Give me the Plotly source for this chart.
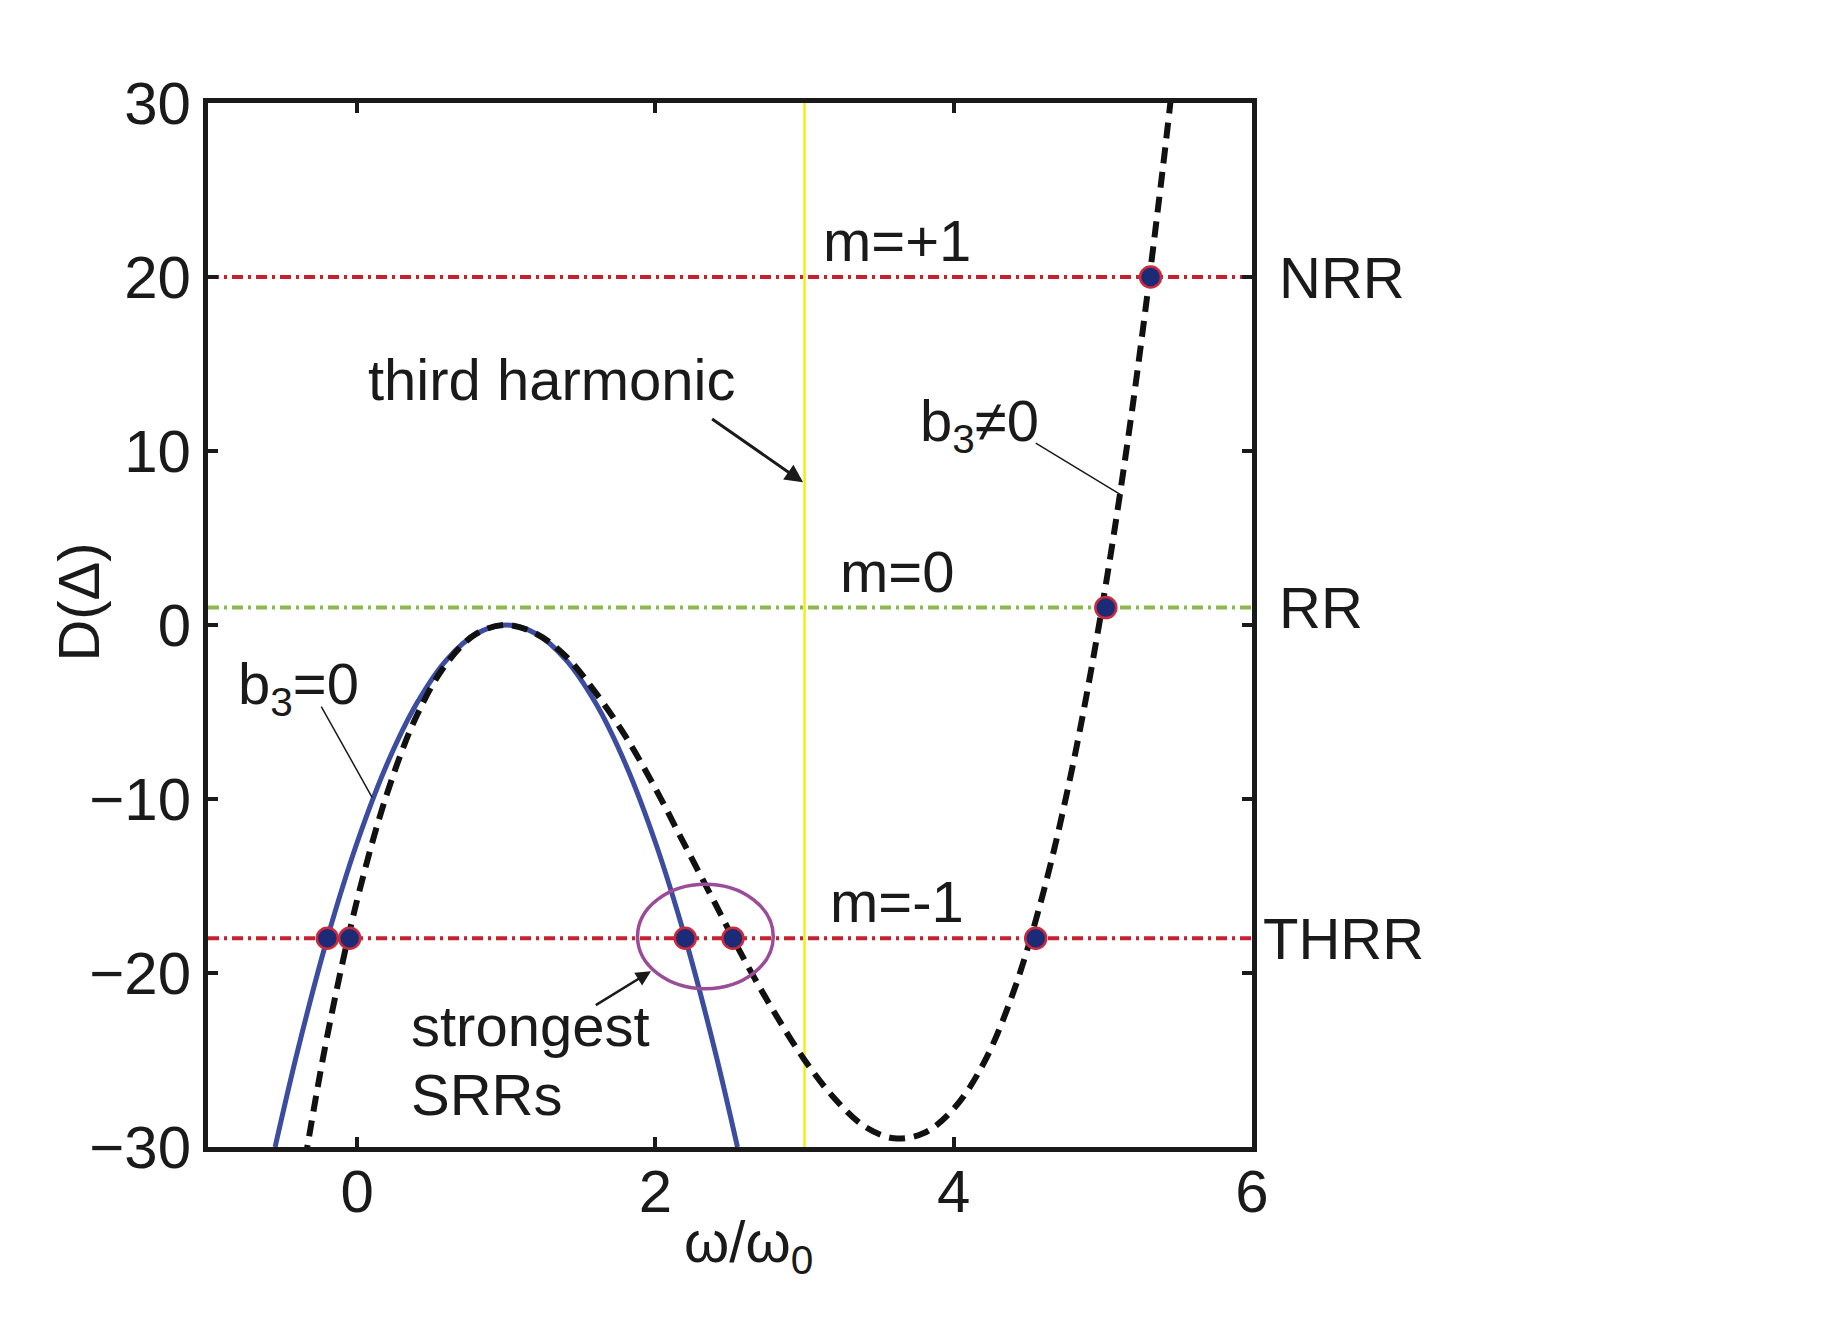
import plotly.graph_objects as go

# b3 = 0 branch (solid blue)
omega_b0 = [-0.55, -0.4, -0.2, 0.0, 0.2, 0.4, 0.6, 0.8, 1.0, 1.2, 1.4, 1.6, 1.8, 2.0, 2.2, 2.4, 2.55]
D_b0 = [-30.0, -24.5, -18.0, -12.5, -8.0, -4.5, -2.0, -0.5, 0.0, -0.5, -2.0, -4.5, -8.0, -12.5, -18.0, -24.5, -30.0]

# b3 != 0 branch (dashed black)
omega_b3 = [-0.35, -0.2, 0.0, 0.2, 0.4, 0.6, 0.8, 1.0, 1.2, 1.4, 1.6, 1.8, 2.0, 2.2, 2.4, 2.6,
            2.8, 3.0, 3.2, 3.4, 3.6, 3.8, 4.0, 4.2, 4.4, 4.6, 4.8, 5.0, 5.2, 5.4, 5.5]
D_b3 = [-30.8, -23.6, -15.8, -9.7, -5.2, -2.2, -0.5, 0.0, -0.5, -1.8, -3.9, -6.4, -9.4, -12.7, -16.0, -19.3,
        -22.3, -25.0, -27.2, -28.8, -29.5, -29.2, -27.8, -25.2, -21.1, -15.4, -8.0, 1.3, 12.6, 26.1, 33.7]

# resonance crossings
omega_dots = [-0.2, -0.05, 2.2, 2.52, 4.55, 5.02, 5.32]
D_dots = [-18, -18, -18, -18, -18, 1, 20]

# resonance levels
level_D = [20, 1, -18]
level_m = ["m=+1", "m=0", "m=-1"]
level_names = ["NRR", "RR", "THRR"]
level_colors = ["#c8202f", "#8cb84e", "#c8202f"]

third_harmonic = 3
x_range = [-1, 6]
y_range = [-30, 30]

FONT = "Liberation Sans, Arial, Helvetica, sans-serif"
fs = 58

fig = go.Figure()

# third harmonic line
fig.add_trace(go.Scatter(x=[third_harmonic, third_harmonic], y=y_range, mode="lines",
                         line=dict(color="#f2ee1a", width=2.5), hoverinfo="skip"))

# horizontal levels
for lv, col in zip(level_D, level_colors):
    fig.add_trace(go.Scatter(x=x_range, y=[lv, lv], mode="lines",
                             line=dict(color=col, width=4, dash="11px,5px,3px,5px"),
                             hoverinfo="skip"))

fig.add_trace(go.Scatter(x=omega_b0, y=D_b0, mode="lines", line_shape="spline",
                         line=dict(color="#3c4c9e", width=5)))
fig.add_trace(go.Scatter(x=omega_b3, y=D_b3, mode="lines", line_shape="spline",
                         line=dict(color="#111111", width=6, dash="16px,9px")))

fig.add_trace(go.Scatter(x=omega_dots, y=D_dots, mode="markers",
                         marker=dict(size=21, color="#1c2b78",
                                     line=dict(color="#cc2a3a", width=2.5))))

# strongest SRRs ellipse
fig.add_shape(type="circle", xref="x", yref="y", x0=1.88, x1=2.79, y0=-20.9, y1=-14.9,
              line=dict(color="#9a4c98", width=3.5))

txt = dict(family=FONT, size=fs, color="#1a1a1a")

# m labels
for lv, lab in zip(level_D, level_m):
    fig.add_annotation(x=3.62, y=lv + 0.1, text=lab, showarrow=False, font=txt,
                       xanchor="center", yanchor="bottom")

# resonance names on the right
for lv, lab, xp in zip(level_D, level_names, [1.024, 1.024, 1.009]):
    fig.add_annotation(xref="paper", x=xp, y=lv, text=lab, showarrow=False, font=txt,
                       xanchor="left", yanchor="middle")

fig.add_annotation(x=1.3, y=14.1, text="third harmonic", showarrow=False, font=txt)
fig.add_annotation(x=2.99, y=8.2, ax=2.37, ay=11.9, axref="x", ayref="y", text="",
                   showarrow=True, arrowhead=2, arrowsize=1.2, arrowwidth=3, arrowcolor="#1a1a1a")

fig.add_annotation(x=4.17, y=11.5, text="b<sub>3</sub>≠0", showarrow=False, font=txt)
fig.add_annotation(x=5.13, y=7.43, ax=4.54, ay=10.5, axref="x", ayref="y", text="",
                   showarrow=True, arrowhead=0, arrowwidth=1.5, arrowcolor="#1a1a1a")

fig.add_annotation(x=-0.39, y=-3.6, text="b<sub>3</sub>=0", showarrow=False, font=txt)
fig.add_annotation(x=0.1, y=-9.9, ax=-0.246, ay=-4.6, axref="x", ayref="y", text="",
                   showarrow=True, arrowhead=0, arrowwidth=1.5, arrowcolor="#1a1a1a")

fig.add_annotation(x=0.35, y=-23.0, text="strongest", showarrow=False, font=txt, xanchor="left")
fig.add_annotation(x=0.35, y=-27.0, text="SRRs", showarrow=False, font=txt, xanchor="left")
fig.add_annotation(x=1.97, y=-19.9, ax=1.59, ay=-21.9, axref="x", ayref="y", text="",
                   showarrow=True, arrowhead=2, arrowsize=1.2, arrowwidth=2.5, arrowcolor="#1a1a1a")

# axis titles
fig.add_annotation(xref="paper", yref="paper", x=-0.158, y=0.522, text="D(Δ)", textangle=-90,
                   showarrow=False, font=txt)
fig.add_annotation(xref="paper", yref="paper", x=0.518, y=-0.057, text="ω/ω<sub>0</sub>",
                   showarrow=False, font=txt, yanchor="top")

axis_common = dict(showline=True, linecolor="#1a1a1a", linewidth=5, mirror="ticks",
                   ticks="inside", ticklen=10, tickwidth=4, tickcolor="#1a1a1a",
                   showgrid=False, zeroline=False,
                   tickfont=dict(family=FONT, size=60, color="#1a1a1a"))

fig.update_xaxes(range=x_range, tickvals=[0, 2, 4, 6], ticklabelstandoff=-12, **axis_common)
fig.update_yaxes(range=y_range, tickvals=[-30, -20, -10, 0, 10, 20, 30], **axis_common)

fig.update_layout(width=1829, height=1320, showlegend=False,
                  margin=dict(l=200, r=585, t=95, b=181),
                  plot_bgcolor="white", paper_bgcolor="white")

fig.write_html("out.html")
